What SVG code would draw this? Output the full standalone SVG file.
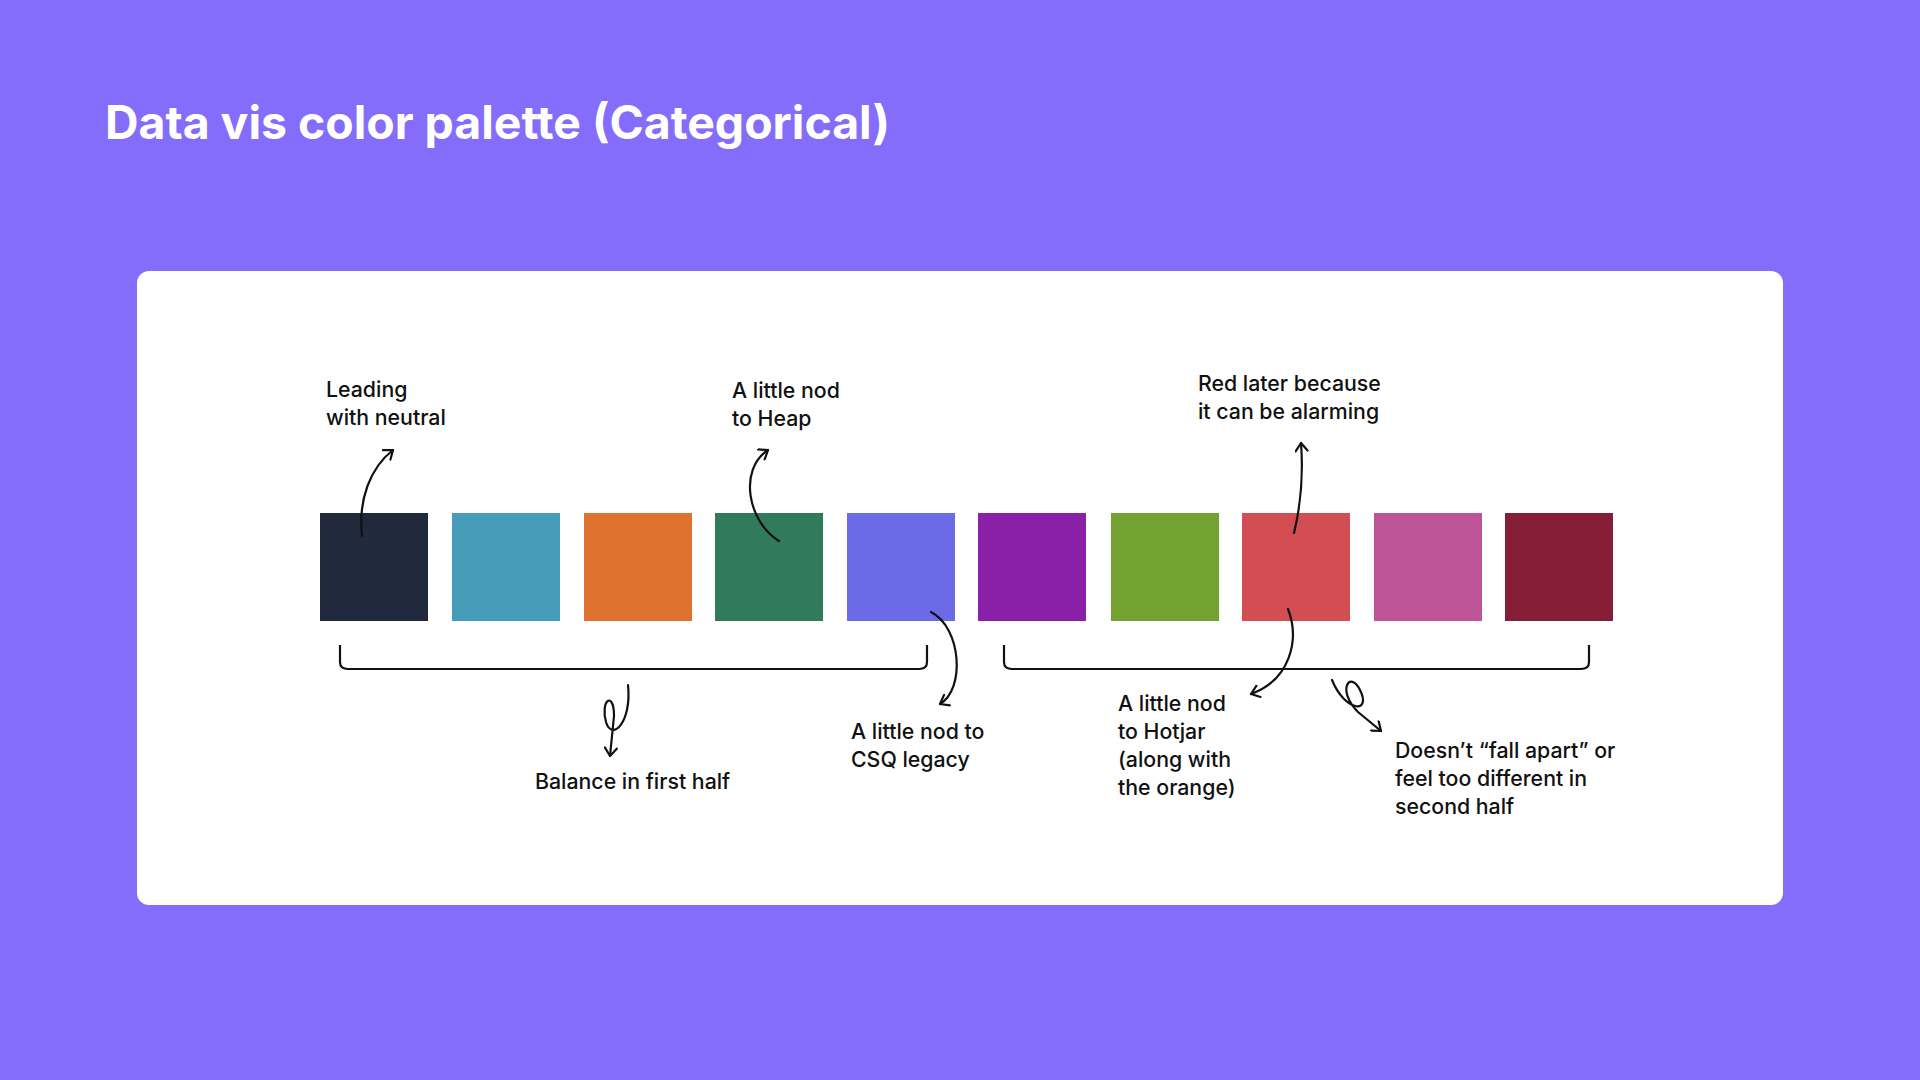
<svg xmlns="http://www.w3.org/2000/svg" width="1920" height="1080" viewBox="0 0 1920 1080">
<style>
.t{font-family:Inter,"Liberation Sans",sans-serif;font-size:21.3px;font-weight:500;fill:#111}
.c{fill:none;stroke:#111;stroke-width:2.2;stroke-linecap:round;marker-end:url(#a)}
.b{fill:none;stroke:#111;stroke-width:2.2;stroke-linejoin:round}
</style>
<defs><marker id="a" markerWidth="14" markerHeight="14" refX="0" refY="0" viewBox="-10 -7 14 14" orient="auto" markerUnits="userSpaceOnUse"><path d="M-8,-6 L0,0 L-8,6" fill="none" stroke="#111" stroke-width="2.2" stroke-linecap="round" stroke-linejoin="round"/></marker></defs>
<rect width="1920" height="1080" fill="#836DFA"/>
<text x="105" y="139" font-family="Inter,'Liberation Sans',sans-serif" font-size="46.4" font-weight="700" fill="#fff">Data vis color palette (Categorical)</text>
<rect x="137" y="271" width="1646" height="634" rx="12" fill="#fff"/>
<g id="swatches">
<rect x="320" y="513" width="108" height="108" fill="#202A3C"/>
<rect x="452" y="513" width="108" height="108" fill="#479CBA"/>
<rect x="584" y="513" width="108" height="108" fill="#DE722E"/>
<rect x="715" y="513" width="108" height="108" fill="#327A5C"/>
<rect x="847" y="513" width="108" height="108" fill="#6C6BE7"/>
<rect x="978" y="513" width="108" height="108" fill="#8A1FA8"/>
<rect x="1111" y="513" width="108" height="108" fill="#74A232"/>
<rect x="1242" y="513" width="108" height="108" fill="#D24E52"/>
<rect x="1374" y="513" width="108" height="108" fill="#BE5498"/>
<rect x="1505" y="513" width="108" height="108" fill="#851D37"/>
</g>
<g id="labels">
<text class="t" x="326" y="397">Leading</text><text class="t" x="326" y="425">with neutral</text>
<text class="t" x="732" y="398">A little nod</text><text class="t" x="732" y="426">to Heap</text>
<text class="t" x="1198" y="391">Red later because</text><text class="t" x="1198" y="419">it can be alarming</text>
<text class="t" x="535" y="789">Balance in first half</text>
<text class="t" x="851" y="739">A little nod to</text><text class="t" x="851" y="767">CSQ legacy</text>
<text class="t" x="1118" y="711">A little nod</text><text class="t" x="1118" y="739">to Hotjar</text><text class="t" x="1118" y="767">(along with</text><text class="t" x="1118" y="795">the orange)</text>
<text class="t" x="1395" y="758">Doesn’t “fall apart” or</text><text class="t" x="1395" y="786">feel too different in</text><text class="t" x="1395" y="814">second half</text>
</g>
<g id="connectors">
<path class="b" d="M340,645 L340,662 Q340,669 348,669 L919,669 Q927,669 927,662 L927,645"/>
<path class="b" d="M1004,645 L1004,662 Q1004,669 1012,669 L1581,669 Q1589,669 1589,662 L1589,645"/>
<path class="c" d="M362,536 C358,500 370,468 393,450"/>
<path class="c" d="M779,541 C748,522 738,470 768,450"/>
<path class="c" d="M931,612 C962,628 965,690 940,704"/>
<path class="c" d="M1294,533 C1302,500 1303,470 1301,443"/>
<path class="c" d="M1288,609 C1300,640 1290,680 1251,694"/>
<path class="c" d="M628,685 C632,722 612,742 606,722 C600,700 614,690 614,716 L610,756"/>
<path class="c" d="M1332,680 C1345,712 1372,714 1360,690 C1350,670 1336,690 1358,712 L1381,731"/>
</g>
</svg>
